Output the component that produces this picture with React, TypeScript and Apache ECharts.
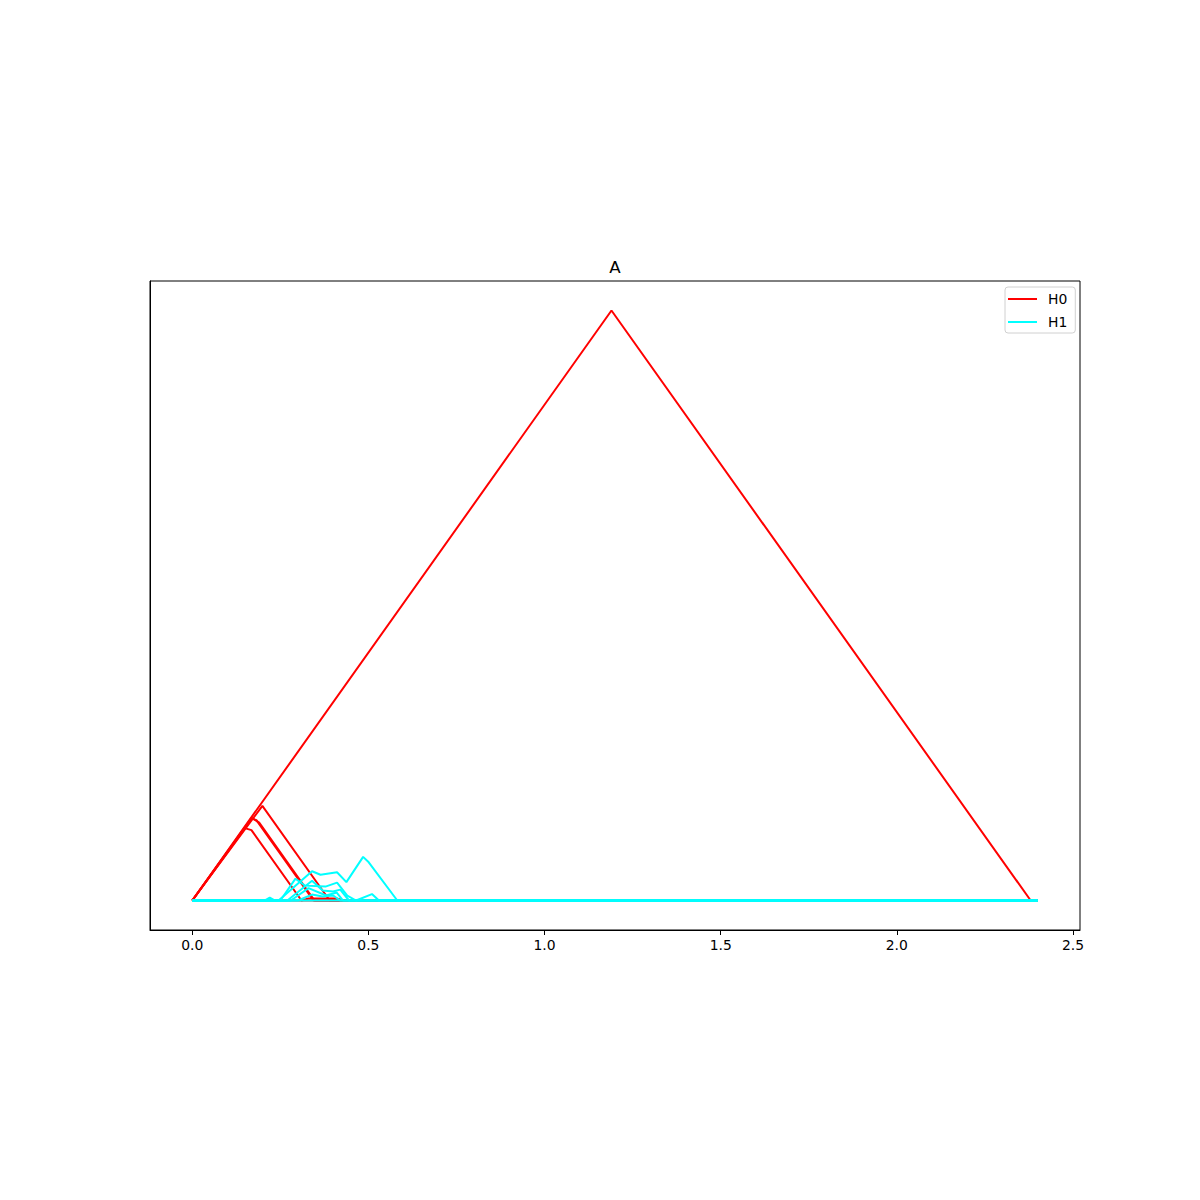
import React, { useEffect, useRef } from "react";
import * as echarts from "echarts";

// H0 landscape layers: [x, y] vertices
const h0Layers: number[][][] = [
  [[0, 0], [1.19, 1.19], [2.38, 0], [2.4, 0]],
  [[0, 0], [0.199, 0.191], [0.39, 0], [2.4, 0]],
  [[0, 0], [0.168, 0.166], [0.182, 0.162], [0.344, 0], [2.4, 0]],
  [[0, 0], [0.17, 0.166], [0.19, 0.157], [0.347, 0], [2.4, 0]],
  [[0, 0], [0.149, 0.146], [0.168, 0.142], [0.31, 0], [2.4, 0]],
  [[0, 0], [0.31, 0], [0.33, 0.004], [0.41, 0.004], [0.43, 0], [2.4, 0]],
];

// H1 landscape layers
const h1Layers: number[][][] = [
  [[0, 0], [0.245, 0], [0.34, 0.059], [0.364, 0.052], [0.411, 0.057], [0.4375, 0.037], [0.485, 0.088], [0.501, 0.077], [0.582, 0], [2.4, 0]],
  [[0, 0], [0.25, 0], [0.293, 0.044], [0.32, 0.03], [0.378, 0.028], [0.411, 0.036], [0.44, 0.01], [0.465, 0], [0.51, 0.013], [0.53, 0], [2.4, 0]],
  [[0, 0], [0.27, 0], [0.34, 0.04], [0.37, 0.02], [0.4, 0.018], [0.42, 0.022], [0.445, 0], [2.4, 0]],
  [[0, 0], [0.28, 0], [0.33, 0.025], [0.38, 0.01], [0.41, 0.016], [0.428, 0], [2.4, 0]],
  [[0, 0], [0.3, 0], [0.34, 0.012], [0.37, 0.008], [0.4, 0.01], [0.42, 0], [2.4, 0]],
  [[0, 0], [0.205, 0], [0.22, 0.006], [0.235, 0], [2.4, 0]],
];

const xTicks = [0, 0.5, 1.0, 1.5, 2.0, 2.5];
const seriesNames = ["H0", "H1"];
const titleText = "A";

export default function App() {
  const ref = useRef<HTMLDivElement>(null);
  useEffect(() => {
    document.body.style.margin = "0";
    const chart = echarts.init(ref.current!, null, { renderer: "svg" });
    const font = "DejaVu Sans";
    const mk = (name: string, color: string, data: number[][]) => ({
      name,
      type: "line",
      data,
      showSymbol: false,
      symbol: "none",
      lineStyle: { color, width: 2 },
      itemStyle: { color },
      silent: true,
    });
    const series: any[] = [
      ...h0Layers.map((d) => mk(seriesNames[0], "#ff0000", d)),
      ...h1Layers.map((d) => mk(seriesNames[1], "#00ffff", d)),
    ];
    chart.setOption({
      animation: false,
      grid: {
        left: 150,
        top: 281,
        width: 930,
        height: 649,
        show: true,
        borderColor: "#000",
        borderWidth: 1,
        backgroundColor: "#fff",
      },
      graphic: [
        {
          type: "text",
          x: 615,
          y: 267,
          style: {
            text: titleText,
            fill: "#000",
            font: `16.7px ${font}`,
            textAlign: "center",
            textVerticalAlign: "middle",
          },
        },
      ],
      legend: {
        data: seriesNames,
        orient: "vertical",
        left: 1005,
        top: 287,
        itemWidth: 29,
        itemHeight: 14,
        itemGap: 9,
        padding: [5, 8, 4, 3],
        icon: "path://M0,6L29,6L29,8L0,8Z",
        borderColor: "#d0d0d0",
        borderWidth: 1,
        borderRadius: 3,
        backgroundColor: "rgba(255,255,255,0.8)",
        textStyle: { fontFamily: font, fontSize: 13.9, color: "#000", padding: [0, 0, 0, 6] },
      },
      xAxis: {
        type: "value",
        min: -0.12,
        max: 2.52,
        splitLine: { show: false },
        axisLine: { show: true, onZero: false, lineStyle: { color: "#000", width: 1 } },
        axisTick: {
          show: true,
          inside: false,
          length: 5,
          lineStyle: { color: "#000", width: 1 },
          customValues: xTicks,
        },
        axisLabel: {
          color: "#000",
          fontFamily: font,
          fontSize: 13.9,
          margin: 8,
          customValues: xTicks,
          formatter: (v: number) => v.toFixed(1),
        },
      },
      yAxis: {
        type: "value",
        min: -0.0595,
        max: 1.2495,
        splitLine: { show: false },
        axisLine: { show: true, onZero: false, lineStyle: { color: "#000" } },
        axisTick: { show: false },
        axisLabel: { show: false },
      },
      series,
    });
    return () => chart.dispose();
  }, []);
  return <div ref={ref} style={{ width: 1200, height: 1200 }} />;
}
